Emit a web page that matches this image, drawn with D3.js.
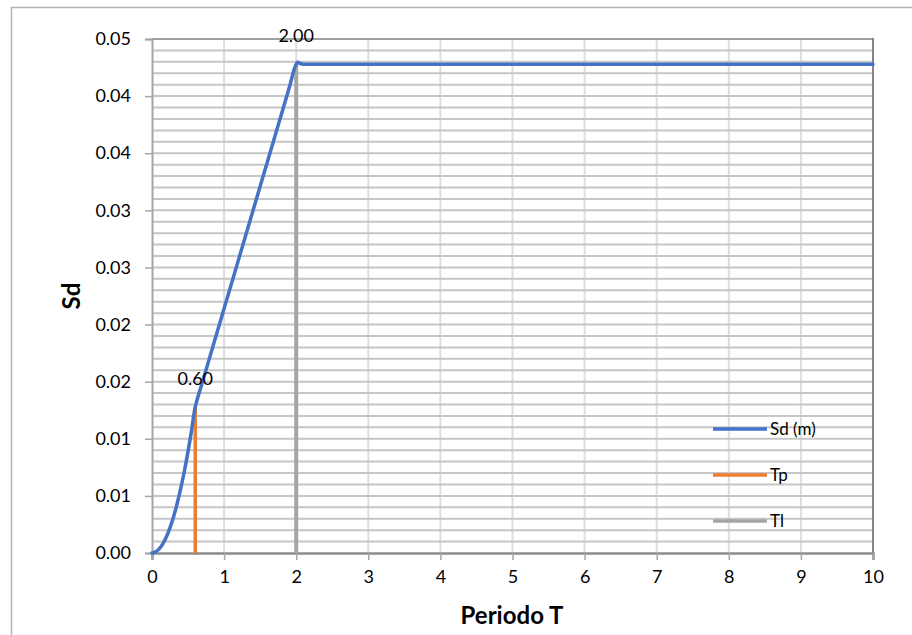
<!DOCTYPE html>
<html>
<head>
    <meta charset="utf-8">
    <style>
        body { margin: 0; background: #ffffff; }
        text { font-family: Lato, "Open Sans", sans-serif; fill: #000000; }
        .tick-label { font-size: 18px; }
        .axis-title { font-size: 24px; font-weight: bold; }
        .legend text { font-size: 17px; }
        .data-label { font-size: 18px; }
    </style>
    <script src="https://d3js.org/d3.v7.min.js"></script>
</head>
<body>
    <svg width="912" height="635"></svg>
    <script>
        // Sd (m) series
        var periods = [0, 0.05, 0.1, 0.15, 0.2, 0.25, 0.3, 0.35, 0.4, 0.45, 0.5, 0.55, 0.6,
            0.7, 0.8, 0.9, 1.0, 1.1, 1.2, 1.3, 1.4, 1.5, 1.6, 1.7, 1.8, 1.9, 2.0,
            2.1, 2.5, 3, 4, 5, 6, 7, 8, 9, 10];
        var sdValues = [0, 0.0001, 0.00036, 0.0008, 0.00142, 0.00222, 0.0032, 0.00436, 0.0057, 0.0072, 0.0089, 0.01076, 0.0128,
            0.01497, 0.01712, 0.01926, 0.0214, 0.02354, 0.02568, 0.02782, 0.02996, 0.0321, 0.03424, 0.03638, 0.03852, 0.04066, 0.0428,
            0.0428, 0.0428, 0.0428, 0.0428, 0.0428, 0.0428, 0.0428, 0.0428, 0.0428, 0.0428];

        // Tp and Tl markers
        var tpX = [0.6, 0.6], tpY = [0, 0.0128];
        var tlX = [2, 2], tlY = [0, 0.0428];
        var markerLabels = ["0.60", "2.00"];

        var xTickValues = [0, 1, 2, 3, 4, 5, 6, 7, 8, 9, 10];
        var yTickValues = [0, 0.005, 0.01, 0.015, 0.02, 0.025, 0.03, 0.035, 0.04, 0.045];
        var yTickLabels = ["0.00", "0.01", "0.01", "0.02", "0.02", "0.03", "0.03", "0.04", "0.04", "0.05"];

        var seriesNames = ["Sd (m)", "Tp", "Tl"];
        var seriesColors = ["#4472C4", "#ED7D31", "#A5A5A5"];

        var svg = d3.select("svg");
        var plotLeft = 152, plotRight = 873, plotTop = 39, plotBottom = 553;

        var x = d3.scaleLinear().domain([0, 10]).range([plotLeft, plotRight]);
        var y = d3.scaleLinear().domain([0, 0.045]).range([plotBottom, plotTop]);

        // chart frame
        svg.append("rect")
            .attr("x", 11.5).attr("y", 7.5)
            .attr("width", 1000).attr("height", 1000)
            .attr("fill", "none")
            .attr("stroke", "#b4b4b4")
            .attr("stroke-width", 1.5);

        // vertical gridlines
        svg.append("g").selectAll("line")
            .data(xTickValues.slice(1, -1))
            .enter().append("line")
            .attr("x1", function (d) { return x(d); })
            .attr("x2", function (d) { return x(d); })
            .attr("y1", plotTop).attr("y2", plotBottom)
            .attr("stroke", "#dedede")
            .attr("stroke-width", 2);

        // horizontal gridlines (minor + major)
        svg.append("g").selectAll("line")
            .data(y.ticks(45).slice(1))
            .enter().append("line")
            .attr("x1", plotLeft).attr("x2", plotRight)
            .attr("y1", function (d) { return y(d); })
            .attr("y2", function (d) { return y(d); })
            .attr("stroke", "#c6c6c6")
            .attr("stroke-width", 2);

        // plot area borders
        svg.append("line").attr("x1", plotLeft).attr("x2", plotRight).attr("y1", plotTop).attr("y2", plotTop)
            .attr("stroke", "#a0a0a0").attr("stroke-width", 2);
        svg.append("line").attr("x1", plotRight).attr("x2", plotRight).attr("y1", plotTop - 1).attr("y2", plotBottom)
            .attr("stroke", "#858585").attr("stroke-width", 2);

        // y axis
        var yAxis = svg.append("g")
            .attr("transform", "translate(" + plotLeft + ",0)")
            .call(d3.axisLeft(y).tickValues(yTickValues).tickSize(7).tickPadding(14)
                .tickFormat(function (d, i) { return yTickLabels[i]; }));
        yAxis.select(".domain").attr("stroke", "#a6a6a6").attr("stroke-width", 2);
        yAxis.selectAll(".tick line").attr("stroke", "#a6a6a6").attr("stroke-width", 1.5);
        yAxis.selectAll(".tick text").attr("class", "tick-label").attr("font-size", null).attr("font-family", null).attr("fill", "#000");

        // x axis
        var xAxis = svg.append("g")
            .attr("transform", "translate(0," + plotBottom + ")")
            .call(d3.axisBottom(x).tickValues(xTickValues).tickSize(7).tickPadding(10));
        xAxis.select(".domain").attr("stroke", "#8c8c8c").attr("stroke-width", 2.5);
        xAxis.selectAll(".tick line").attr("stroke", "#a6a6a6").attr("stroke-width", 1.5);
        xAxis.selectAll(".tick text").attr("class", "tick-label").attr("font-size", null).attr("font-family", null).attr("fill", "#000");

        var line = d3.line()
            .x(function (d) { return x(d[0]); })
            .y(function (d) { return y(d[1]); });

        // Tp and Tl vertical lines
        svg.append("path")
            .datum(d3.zip(tpX, tpY))
            .attr("d", line)
            .attr("stroke", seriesColors[1]).attr("stroke-width", 3.5).attr("fill", "none");
        svg.append("path")
            .datum(d3.zip(tlX, tlY))
            .attr("d", line)
            .attr("stroke", seriesColors[2]).attr("stroke-width", 4).attr("fill", "none");

        // Sd curve, smoothed
        svg.append("path")
            .datum(d3.zip(periods, sdValues))
            .attr("d", line.curve(d3.curveCardinal.tension(0)))
            .attr("stroke", seriesColors[0]).attr("stroke-width", 3.5)
            .attr("stroke-linecap", "round").attr("fill", "none");

        // data labels on top of markers
        svg.append("g").selectAll("text")
            .data([[tpX[1], tpY[1]], [tlX[1], tlY[1]]])
            .enter().append("text")
            .attr("class", "data-label")
            .attr("x", function (d) { return x(d[0]); })
            .attr("y", function (d) { return y(d[1]) - 22; })
            .attr("text-anchor", "middle")
            .text(function (d, i) { return markerLabels[i]; });

        // axis titles
        svg.append("text")
            .attr("class", "axis-title")
            .attr("x", 512).attr("y", 624)
            .attr("text-anchor", "middle")
            .text("Periodo T");
        svg.append("text")
            .attr("class", "axis-title")
            .attr("transform", "translate(80,296) rotate(-90)")
            .attr("text-anchor", "middle")
            .text("Sd");

        // legend
        var legend = svg.append("g").attr("class", "legend")
            .selectAll("g")
            .data(seriesNames)
            .enter().append("g")
            .attr("transform", function (d, i) { return "translate(713," + (429 + i * 46) + ")"; });
        legend.append("line")
            .attr("x1", 0).attr("x2", 54)
            .attr("stroke", function (d, i) { return seriesColors[i]; })
            .attr("stroke-width", 3.5);
        legend.append("text")
            .attr("x", 57).attr("dy", "0.35em")
            .text(function (d) { return d; });
    </script>
</body>
</html>
